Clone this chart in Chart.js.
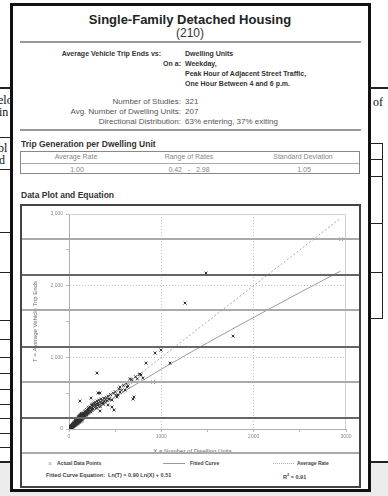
<!DOCTYPE html>
<html lang="en">
<head>
<meta charset="UTF-8">
<title>Single-Family Detached Housing (210)</title>
<script src="https://cdn.jsdelivr.net/npm/chart.js"></script>
<style>
  body { margin:0; width:388px; height:496px; position:relative; overflow:hidden; background:#fff;
         font-family: Arial, 'Liberation Sans', sans-serif; }
  .band { position:absolute; left:0; right:0; top:463px; bottom:0; background:#ececec; }
  .ln { position:absolute; background:#222; height:1px; }
  .vl { position:absolute; background:#222; width:1px; }
  .serif { position:absolute; font-family:'Liberation Serif','DejaVu Serif',serif; font-size:12px; line-height:12px; color:#111; white-space:nowrap; }
  .card { position:absolute; left:10px; top:3px; width:355px; height:483px; border:3px solid #111; background:#fff; }
  .t { position:absolute; white-space:nowrap; line-height:1; }
  .b { font-weight:bold; }
  .rule { position:absolute; left:20px; width:341px; height:2px; background:#999; }
  .table { position:absolute; left:20px; top:151px; width:338px; height:21px; border:1.5px solid #888; }
  .table .mid { position:absolute; left:0; right:0; top:11px; height:1px; background:#aaa; }
  .cell { position:absolute; font-size:7px; color:#888; transform:translateX(-50%); white-space:nowrap; line-height:1; }
  .frame { position:absolute; left:20px; top:204px; width:337px; height:280px; border:2px solid #444; }
  canvas { position:absolute; left:22px; top:206px; }
  .bleed { position:absolute; left:22px; width:337px; height:1.5px; }
  .lg { position:absolute; font-size:5px; font-weight:bold; color:#444; line-height:1; white-space:nowrap; }
</style>
</head>
<body>
<div class="band"></div>

<!-- document underneath -->
<div class="ln" style="left:0;width:12px;top:87px;height:2px"></div>
<div class="ln" style="left:368px;width:20px;top:87px;height:2px"></div>
<div class="serif" style="left:-2px;top:94px">elo</div>
<div class="serif" style="left:-1px;top:106px">in</div>
<div class="serif" style="left:-2px;top:142px">bl</div>
<div class="serif" style="left:-1px;top:154px">d</div>
<div class="serif" style="left:373px;top:96px">of</div>
<div class="ln" style="left:0;width:12px;top:137px"></div>
<div class="ln" style="left:0;width:12px;top:169px"></div>
<div class="ln" style="left:0;width:12px;top:232px"></div>
<div class="ln" style="left:0;width:12px;top:272px"></div>
<div class="ln" style="left:0;width:12px;top:320px"></div>
<div class="ln" style="left:0;width:12px;top:339px"></div>
<div class="ln" style="left:0;width:12px;top:357px"></div>
<div class="ln" style="left:0;width:12px;top:373px"></div>
<div class="ln" style="left:0;width:12px;top:389px"></div>
<div class="ln" style="left:0;width:12px;top:404px"></div>
<div class="ln" style="left:0;width:12px;top:418px"></div>
<div class="ln" style="left:0;width:12px;top:433px"></div>
<div class="ln" style="left:0;width:12px;top:447px"></div>
<div class="ln" style="left:0;width:12px;top:461px;height:2px"></div>
<div class="ln" style="left:368px;width:14px;top:143px"></div>
<div class="ln" style="left:368px;width:14px;top:159px"></div>
<div class="ln" style="left:368px;width:14px;top:176px"></div>
<div class="ln" style="left:368px;width:14px;top:223px"></div>
<div class="ln" style="left:368px;width:14px;top:272px"></div>
<div class="ln" style="left:368px;width:14px;top:318px"></div>
<div class="vl" style="left:382px;top:143px;height:176px"></div>
<div class="ln" style="left:368px;width:20px;top:461px;height:2px"></div>

<div class="card"></div>

<!-- header -->
<div class="t b" style="left:0;width:380px;text-align:center;top:13px;font-size:13px;color:#222">Single-Family Detached Housing</div>
<div class="t" style="left:0;width:380px;text-align:center;top:27px;font-size:12px;color:#333">(210)</div>
<div class="rule" style="top:41px"></div>

<div class="t b" style="right:227px;top:50px;font-size:7px;color:#333">Average Vehicle Trip Ends vs:</div>
<div class="t b" style="right:207px;top:60px;font-size:7px;color:#333">On a:</div>
<div class="t b" style="left:185px;top:50px;font-size:7px;color:#333">Dwelling Units</div>
<div class="t b" style="left:185px;top:60px;font-size:7px;color:#333">Weekday,</div>
<div class="t b" style="left:185px;top:70px;font-size:7px;color:#333">Peak Hour of Adjacent Street Traffic,</div>
<div class="t b" style="left:185px;top:80px;font-size:7px;color:#333">One Hour Between 4 and 6 p.m.</div>

<div class="t" style="right:207px;top:98px;font-size:8px;color:#555">Number of Studies:</div>
<div class="t" style="right:207px;top:108px;font-size:8px;color:#555">Avg. Number of Dwelling Units:</div>
<div class="t" style="right:207px;top:118px;font-size:8px;color:#555">Directional Distribution:</div>
<div class="t" style="left:185px;top:98px;font-size:8px;color:#555">321</div>
<div class="t" style="left:185px;top:108px;font-size:8px;color:#555">207</div>
<div class="t" style="left:185px;top:118px;font-size:8px;color:#555">63% entering, 37% exiting</div>
<div class="rule" style="top:129px"></div>

<div class="t b" style="left:21px;top:140px;font-size:8.5px;color:#333">Trip Generation per Dwelling Unit</div>
<div class="table"><div class="mid"></div></div>
<div class="cell" style="left:76px;top:153px">Average Rate</div>
<div class="cell" style="left:189px;top:153px">Range of Rates</div>
<div class="cell" style="left:303px;top:153px">Standard Deviation</div>
<div class="cell" style="left:77px;top:166px">1.00</div>
<div class="cell" style="left:189px;top:166px">0.42&nbsp;&nbsp;&nbsp;-&nbsp;&nbsp;&nbsp;2.98</div>
<div class="cell" style="left:304px;top:166px">1.05</div>

<div class="t b" style="left:21px;top:191px;font-size:8.5px;color:#333">Data Plot and Equation</div>
<div class="frame"></div>
<canvas id="plot" width="336" height="240"></canvas>

<div class="t" style="left:0;width:385px;text-align:center;top:448px;font-size:6px;color:#666">X = Number of Dwelling Units</div>

<!-- scanned-through rows of the page underneath -->
<div class="bleed" style="top:238px;background:#aaa"></div>
<div class="bleed" style="top:274px;background:#666"></div>
<div class="bleed" style="top:309px;background:#aaa"></div>
<div class="bleed" style="top:346px;background:#666"></div>
<div class="bleed" style="top:381px;background:#aaa"></div>
<div class="bleed" style="top:417px;background:#666"></div>
<div class="bleed" style="top:452px;background:#aaa"></div>

<!-- legend -->
<div class="lg" style="left:48px;top:460px;font-size:7px;font-weight:normal;color:#999">×</div>
<div class="lg" style="left:57px;top:461px">Actual Data Points</div>
<div style="position:absolute;left:163px;top:463px;width:22px;border-top:1px solid #999"></div>
<div class="lg" style="left:190px;top:461px">Fitted Curve</div>
<div style="position:absolute;left:273px;top:463px;width:21px;border-top:1px dotted #aaa"></div>
<div class="lg" style="left:297px;top:461px">Average Rate</div>
<div class="lg" style="left:46px;top:473px;font-size:5.5px">Fitted Curve Equation:&nbsp;&nbsp;Ln(T) = 0.90 Ln(X) + 0.51</div>
<div class="lg" style="left:283px;top:473px;font-size:5.5px">R<sup style="font-size:4px">2</sup> = 0.91</div>

<script>
// actual data points [dwelling units, trip ends]
const studyPoints = [
  [3,5],[5,4],[6,8],[8,10],[9,7],[10,12],[11,14],[12,10],[13,16],[14,18],[15,13],[16,20],[17,17],[18,22],[19,15],
  [20,24],[21,20],[22,27],[23,22],[24,30],[25,26],[26,21],[27,33],[28,28],[29,36],[30,25],[31,34],[32,30],[33,40],
  [34,37],[35,29],[36,44],[37,39],[38,34],[39,47],[40,42],[41,36],[42,50],[43,45],[44,40],[45,55],[46,48],[47,42],
  [48,58],[49,52],[50,45],[51,62],[52,55],[53,48],[54,66],[55,59],[56,52],[57,70],[58,62],[59,55],[60,74],[61,66],
  [62,58],[63,78],[64,69],[65,60],[66,82],[67,72],[68,63],[69,86],[70,76],[71,66],[72,92],[73,80],[74,68],[75,95],
  [76,84],[77,72],[78,100],[79,88],[80,75],[81,104],[82,92],[83,78],[84,110],[85,96],[86,82],[87,115],[88,100],
  [89,85],[90,120],[91,105],[92,88],[93,125],[94,108],[95,92],[96,130],[97,112],[98,95],[99,138],[100,115],
  [102,100],[104,145],[105,122],[106,105],[108,150],[109,126],[110,108],[112,158],[113,132],[114,112],[116,165],
  [117,136],[118,118],[120,172],[121,140],[122,122],[124,180],[125,146],[126,126],[128,190],[129,150],[130,130],
  [132,160],[134,135],[136,200],[138,165],[140,140],[142,175],[144,148],[146,210],[148,182],[150,152],[152,190],
  [155,160],[158,225],[160,195],[162,168],[165,205],[168,175],[170,240],
  [7,14],[12,22],[18,30],[24,18],[30,44],[36,30],[42,60],[48,38],[54,76],[60,50],[66,92],[72,58],[78,110],[84,70],
  [90,132],[96,80],[102,148],[108,92],[114,170],[120,100],[126,185],[132,112],[138,200],[144,125],[150,215],
  [10,20],[16,26],[22,34],[28,42],[34,50],[40,58],[46,66],[52,74],[58,84],[64,94],[70,104],[76,112],[82,122],
  [88,130],[94,140],[100,150],[106,160],[112,168],[118,176],[124,196],[130,205],[136,178],[142,190],[148,200],
  [25,38],[35,52],[45,68],[55,84],[65,100],[75,118],[85,135],[95,150],[105,170],[115,185],[125,160],[135,215],
  [172,215],[175,182],[178,255],[180,220],[183,190],[186,235],[190,200],[192,270],[195,245],[198,210],[200,230],
  [204,285],[206,220],[210,260],[214,300],[216,232],[220,275],[224,250],[228,310],[232,285],[236,240],[240,300],
  [244,330],[248,265],[252,295],[256,350],[260,280],[265,320],[270,360],[275,300],[280,340],[285,375],[290,315],
  [296,355],[300,290],[305,390],[310,330],[316,365],[322,405],[328,340],[335,380],[340,310],[348,420],[355,360],
  [362,395],[370,345],[378,430],[386,380],[395,410],[405,440],[415,395],[425,460],[438,420],[450,480],
  [119,390],[249,335],[238,432],[303,781],[314,502],[336,502],[336,251],[369,363],[423,335],[433,418],[466,307],
  [466,404],[488,265],[520,446],[531,474],[553,516],[553,586],[607,544],[628,586],[661,655],[693,418],[704,446],
  [769,767],[780,753],[800,711],[834,920],[910,655],[932,1060],[997,1102],[1094,920],[1257,1757],[1484,2176],
  [1777,1297],[2948,2650],
  [480,500],[500,520],[510,470],[540,560],[570,540],[590,610],[620,640],[640,600],[660,700],[680,690],[720,730],
  [740,700],[760,760]
];

// fitted curve Ln(T) = 0.90 Ln(X) + 0.51, read at a few X values
const fittedX = [10, 20, 50, 100, 250, 500, 1000, 1500, 2000, 2500, 2940];
const fittedT = [13, 25, 56, 105, 240, 447, 834, 1202, 1557, 1904, 2203];

// average rate 1.00 trips per dwelling unit
const rateX = [0, 2940];
const rateT = [0, 2940];

const xMax = 3000;
const yMax = 3000;

const plotFrame = {
  id: 'plotFrame',
  beforeDatasetsDraw(chart) {
    const { ctx, chartArea: a } = chart;
    ctx.save();
    ctx.strokeStyle = '#cfcfcf';
    ctx.lineWidth = 1;
    ctx.beginPath();
    ctx.moveTo(a.left, a.top + 0.5);
    ctx.lineTo(a.right - 0.5, a.top + 0.5);
    ctx.lineTo(a.right - 0.5, a.bottom);
    ctx.stroke();
    ctx.restore();
  }
};

const gridColor = ctx => {
  const v = ctx.tick && ctx.tick.value;
  return (v === 1000 || v === 2000) ? '#c4c4c4' : 'rgba(0,0,0,0)';
};

new Chart(document.getElementById('plot'), {
  type: 'scatter',
  data: {
    datasets: [
      {
        label: 'Actual Data Points',
        data: studyPoints.map(p => ({ x: p[0], y: p[1] })),
        pointStyle: 'crossRot',
        pointRadius: 2,
        borderColor: '#2e2e2e',
        borderWidth: 1,
        order: 1
      },
      {
        label: 'Fitted Curve',
        type: 'line',
        data: fittedX.map((x, i) => ({ x: x, y: fittedT[i] })),
        borderColor: '#9a9a9a',
        borderWidth: 1,
        pointRadius: 0,
        cubicInterpolationMode: 'monotone',
        order: 2
      },
      {
        label: 'Average Rate',
        type: 'line',
        data: rateX.map((x, i) => ({ x: x, y: rateT[i] })),
        borderColor: '#a8a8a8',
        borderWidth: 1,
        borderDash: [2, 2],
        pointRadius: 0,
        order: 3
      }
    ]
  },
  options: {
    responsive: false,
    animation: false,
    devicePixelRatio: 1,
    layout: { padding: { top: 8, right: 12, left: 0, bottom: 0 } },
    plugins: { legend: { display: false }, tooltip: { enabled: false } },
    scales: {
      x: {
        type: 'linear',
        min: 0,
        max: xMax,
        afterFit: s => { s.height = 17; },
        ticks: {
          stepSize: 500,
          autoSkip: false,
          maxRotation: 0,
          padding: 2,
          color: '#888',
          font: { size: 5, family: 'Arial' },
          callback: v => (v % 1000 === 0 ? String(v) : '')
        },
        grid: { color: gridColor, tickColor: '#bbb', tickLength: 3, lineWidth: 1 },
        border: { display: true, color: '#b0b0b0', width: 1, dash: [1, 2] }
      },
      y: {
        type: 'linear',
        min: 0,
        max: yMax,
        afterFit: s => { s.width = 47; },
        ticks: {
          stepSize: 500,
          autoSkip: false,
          padding: 3,
          color: '#888',
          font: { size: 5, family: 'Arial' },
          callback: v => (v % 1000 === 0 ? v.toLocaleString('en-US') : '')
        },
        grid: { color: gridColor, tickColor: '#bbb', tickLength: 3, lineWidth: 1 },
        border: { display: true, color: '#b0b0b0', width: 1, dash: [1, 2] },
        title: {
          display: true,
          text: 'T = Average Vehicle Trip Ends',
          color: '#666',
          font: { size: 6, family: 'Arial' },
          padding: { top: 10, bottom: 0 }
        }
      }
    }
  },
  plugins: [plotFrame]
});
</script>
</body>
</html>
